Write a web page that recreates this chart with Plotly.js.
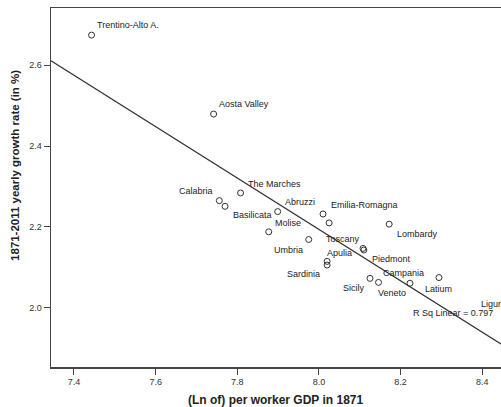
<!DOCTYPE html>
<html>
<head>
<meta charset="utf-8">
<script src="https://cdn.plot.ly/plotly-3.0.1.min.js"></script>
<style>
html, body { margin: 0; padding: 0; overflow: hidden; background: #fff; }
#chart { width: 510px; height: 407px; }
</style>
</head>
<body>
<div id="chart"></div>
<script>
// ---- Data ----
const regions = ["Trentino-Alto A.", "Aosta Valley", "Calabria", "Basilicata", "The Marches",
  "Abruzzi", "Molise", "Emilia-Romagna", "Toscany", "Lombardy", "Umbria", "Apulia",
  "Piedmont", "Sardinia", "Friuli", "Campania", "Sicily", "Veneto", "Latium", "Liguria"];
const gdp1871 = [7.443, 7.742, 7.756, 7.770, 7.808, 7.899, 7.877, 8.010, 8.025, 8.172, 7.975, 8.108,
  8.110, 8.020, 8.020, 8.223, 8.125, 8.146, 8.294, 8.460];
const growthRate = [2.674, 2.479, 2.265, 2.251, 2.284, 2.238, 2.188, 2.232, 2.210, 2.207, 2.169, 2.147,
  2.143, 2.115, 2.106, 2.061, 2.073, 2.063, 2.075, 2.020];
const showLabel = [true, true, true, true, true, true, true, true, true, true, true, true,
  true, true, false, true, true, true, true, true];
const fitSlope = -0.635;
const fitIntercept = 7.274;
const rSquared = 0.797;
const xTicks = [7.4, 7.6, 7.8, 8.0, 8.2, 8.4];
const yTicks = [2.0, 2.2, 2.4, 2.6];

// ---- Label placement (pixel offsets from each point; style only) ----
const labelPlacement = {
  "Trentino-Alto A.": {anchor: "left", dx: 3, dy: -10},
  "Aosta Valley": {anchor: "left", dx: 3, dy: -10},
  "Calabria": {anchor: "right", dx: -4, dy: -10},
  "Basilicata": {anchor: "left", dx: 6, dy: 9},
  "The Marches": {anchor: "left", dx: 5, dy: -9},
  "Abruzzi": {anchor: "left", dx: 5, dy: -10},
  "Molise": {anchor: "left", dx: 4, dy: -9},
  "Emilia-Romagna": {anchor: "left", dx: 6, dy: -9},
  "Toscany": {anchor: "left", dx: -5, dy: 16},
  "Lombardy": {anchor: "left", dx: 6, dy: 10},
  "Umbria": {anchor: "right", dx: -4, dy: 10},
  "Apulia": {anchor: "right", dx: -9, dy: 5},
  "Piedmont": {anchor: "left", dx: 6, dy: 9},
  "Sardinia": {anchor: "right", dx: -5, dy: 13},
  "Campania": {anchor: "center", dx: -6, dy: -10},
  "Sicily": {anchor: "right", dx: -3, dy: 10},
  "Veneto": {anchor: "left", dx: -3, dy: 11},
  "Latium": {anchor: "center", dx: 0, dy: 11},
  "Liguria": {anchor: "left", dx: -28, dy: 4}
};

const xRange = [7.3437, 8.468];
const yRange = [1.854, 2.741];

const fitX = [xRange[0], xRange[1]];
const fitY = fitX.map(x => fitIntercept + fitSlope * x);

const dark = "#333333";
const labelFont = {family: "Liberation Sans, Arial, sans-serif", size: 9, color: "#222"};

const annotations = [];
regions.forEach((name, i) => {
  if (!showLabel[i]) return;
  const p = labelPlacement[name];
  annotations.push({
    x: gdp1871[i], y: growthRate[i], xref: "x", yref: "y",
    text: name, showarrow: false,
    xanchor: p.anchor, yanchor: "middle",
    xshift: p.dx, yshift: -p.dy,
    font: labelFont
  });
});
annotations.push({
  x: 8.225, y: 1.987, xref: "x", yref: "y",
  text: "R Sq Linear = " + rSquared.toFixed(3),
  showarrow: false, xanchor: "left", yanchor: "middle",
  font: labelFont
});
// axis titles
annotations.push({
  xref: "paper", yref: "paper", x: 0.490, y: -0.092,
  text: "(Ln of) per worker GDP in 1871", showarrow: false,
  xanchor: "center", yanchor: "middle",
  font: {family: "Liberation Sans, Arial, sans-serif", size: 12, color: "#222", weight: "bold"}
});
annotations.push({
  xref: "paper", yref: "paper", x: -0.0784, y: 0.560,
  text: "1871-2011 yearly growth rate (in %)", showarrow: false, textangle: -90,
  xanchor: "center", yanchor: "middle",
  font: {family: "Liberation Sans, Arial, sans-serif", size: 11.5, color: "#222", weight: "bold"}
});

const traces = [
  {
    x: fitX, y: fitY, type: "scatter", mode: "lines",
    line: {color: dark, width: 1.2}, hoverinfo: "skip", showlegend: false
  },
  {
    x: gdp1871, y: growthRate, text: regions, type: "scatter", mode: "markers",
    marker: {symbol: "circle-open", size: 6, color: dark, line: {width: 1, color: dark}},
    showlegend: false, cliponaxis: true
  }
];

const axisCommon = {
  showline: true, linecolor: "#444", linewidth: 1.5, mirror: true,
  showgrid: false, zeroline: false,
  ticks: "outside", ticklen: 6, tickwidth: 1, tickcolor: "#444",
  tickfont: {family: "Liberation Sans, Arial, sans-serif", size: 9, color: "#333"},
  tickformat: ".1f"
};

const layout = {
  width: 510, height: 407,
  margin: {l: 51, r: 0, t: 8, b: 40},
  paper_bgcolor: "#fff", plot_bgcolor: "#fff",
  showlegend: false,
  xaxis: Object.assign({}, axisCommon, {range: xRange, tickvals: xTicks, title: {text: ""}}),
  yaxis: Object.assign({}, axisCommon, {range: yRange, tickvals: yTicks, title: {text: ""}}),
  annotations: annotations
};

Plotly.newPlot("chart", traces, layout, {displayModeBar: false, staticPlot: true});
</script>
</body>
</html>
